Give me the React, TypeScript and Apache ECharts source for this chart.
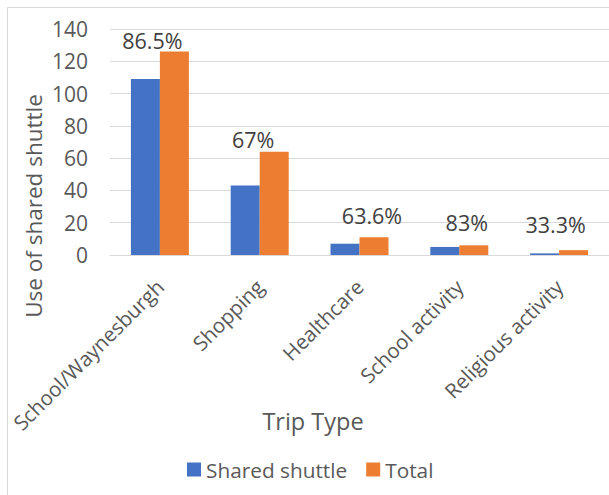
import React, { useEffect, useRef } from "react";
import * as echarts from "echarts";

const categories = ["School/Waynesburgh", "Shopping", "Healthcare", "School activity", "Religious activity"];
const sharedShuttle = [109, 43, 7, 5, 1];
const total = [126, 64, 11, 6, 3];
const percentLabels = ["86.5%", "67%", "63.6%", "83%", "33.3%"];
const yTicks = { min: 0, max: 140, interval: 20 };

// label placement tweaks (styling only)
const labelOffsets = [
  [-22, -11],
  [-21, -12],
  [-2, -22],
  [-7, -23],
  [-18, -26],
];

const FONT = "Open Sans";
const TEXT = "#595959";
const GRID = "#d9d9d9";

export default function App() {
  const ref = useRef<HTMLDivElement>(null);
  useEffect(() => {
    if (!ref.current) return;
    const chart = echarts.init(ref.current, undefined, { renderer: "svg" });
    chart.setOption({
      animation: false,
      backgroundColor: "#ffffff",
      textStyle: { fontFamily: FONT },
      grid: { left: 110, top: 29, right: -8.5, bottom: 240, containLabel: false },
      legend: {
        data: ["Shared shuttle", "Total"],
        left: 182,
        top: 454,
        icon: "rect",
        itemWidth: 14,
        itemHeight: 14,
        itemGap: 19,
        textStyle: { color: TEXT, fontSize: 20.8, fontFamily: FONT },
      },
      graphic: [
        {
          type: "rect",
          shape: { x: 7.5, y: 7.5, width: 700, height: 700 },
          style: { fill: "none", stroke: GRID, lineWidth: 1 },
          silent: true,
          z: -1,
        },
        {
          type: "text",
          x: 33,
          y: 206,
          rotation: Math.PI / 2,
          style: {
            text: "Use of shared shuttle",
            fill: TEXT,
            font: `22.5px '${FONT}'`,
            textAlign: "center",
            textVerticalAlign: "middle",
          },
        },
        {
          type: "text",
          x: 313,
          y: 421,
          style: {
            text: "Trip Type",
            fill: TEXT,
            font: `23.5px '${FONT}'`,
            textAlign: "center",
            textVerticalAlign: "middle",
          },
        },
      ],
      xAxis: {
        type: "category",
        data: categories,
        axisLine: { lineStyle: { color: GRID } },
        axisTick: { show: false },
        axisLabel: {
          rotate: 45,
          color: TEXT,
          fontSize: 20.5,
          fontFamily: FONT,
          margin: 28,
          interval: 0,
        },
      },
      yAxis: {
        type: "value",
        min: yTicks.min,
        max: yTicks.max,
        interval: yTicks.interval,
        axisLine: { show: false },
        axisTick: { show: false },
        splitLine: { lineStyle: { color: GRID, width: 1 } },
        axisLabel: { color: TEXT, fontSize: 21, fontFamily: FONT, margin: 22 },
      },
      series: [
        {
          name: "Shared shuttle",
          type: "bar",
          data: sharedShuttle,
          barWidth: 29,
          barGap: "0%",
          itemStyle: { color: "#4472C4" },
        },
        {
          name: "Total",
          type: "bar",
          barWidth: 29,
          barGap: "0%",
          itemStyle: { color: "#ED7D31" },
          data: total.map((v, i) => ({
            value: v,
            label: {
              show: true,
              position: ["50%", 0],
              align: "center",
              verticalAlign: "middle",
              offset: labelOffsets[i],
              formatter: () => percentLabels[i],
              color: "#404040",
              fontSize: 21.5,
              fontFamily: FONT,
            },
          })),
        },
      ],
    });
    return () => chart.dispose();
  }, []);
  return (
    <div
      ref={ref}
      style={{ position: "fixed", left: 0, top: 0, width: 609, height: 495, background: "#fff" }}
    />
  );
}
